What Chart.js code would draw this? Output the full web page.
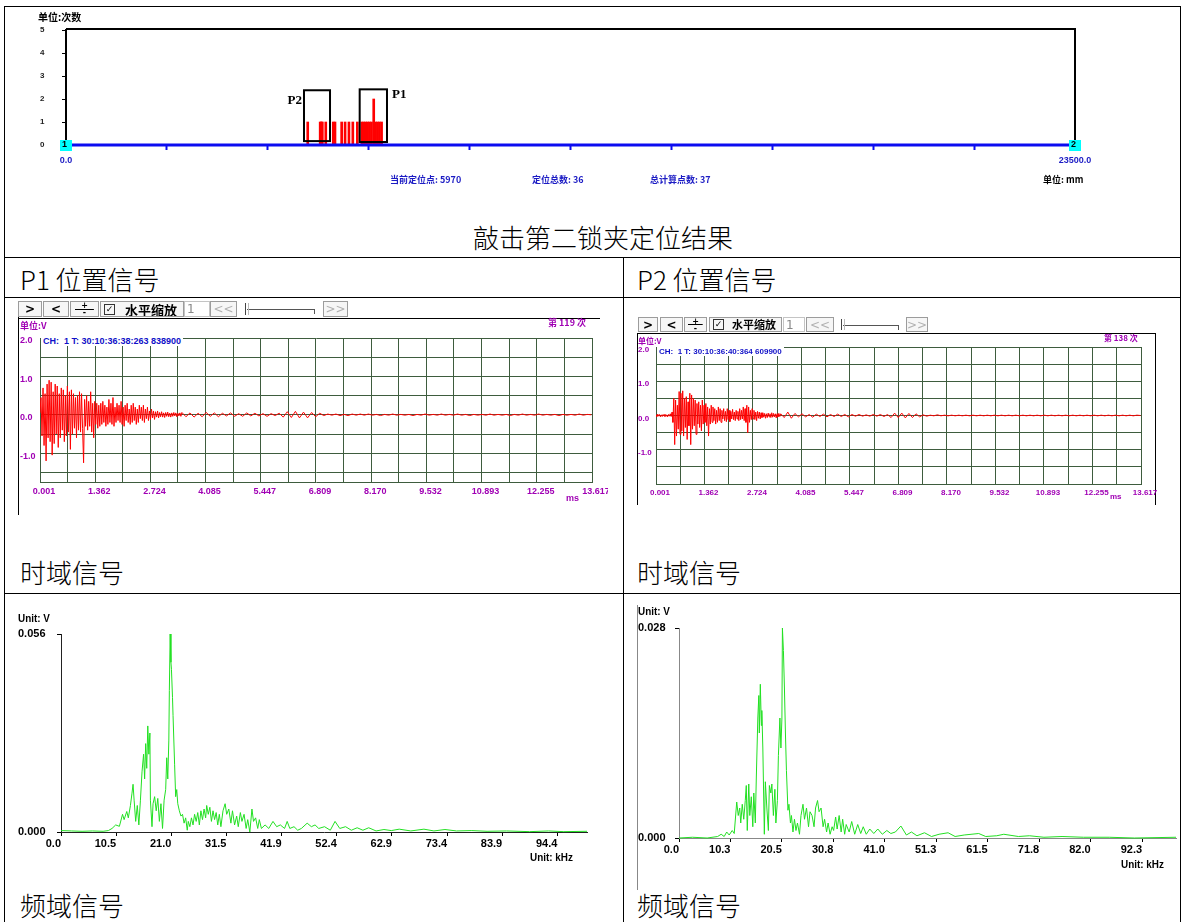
<!DOCTYPE html>
<html lang="zh-CN">
<head>
<meta charset="utf-8">
<title>敲击第二锁夹定位结果</title>
<script src="https://cdn.jsdelivr.net/npm/chart.js@4.4.1/dist/chart.umd.min.js"></script>
<style>
  html, body { margin: 0; padding: 0; background: #fff; }
  #page { position: relative; width: 1182px; height: 922px; overflow: hidden; font-family: 'Noto Sans CJK SC', 'Liberation Sans', sans-serif; }
  canvas { position: absolute; }
  .ln { position: absolute; background: #000; }
  .cap { position: absolute; font-size: 26px; line-height: 30px; font-weight: 300; color: #000; white-space: nowrap; }
  .txt { position: absolute; white-space: nowrap; line-height: 12px; font-weight: bold; }
  .blue { color: #1c1cc4; font-size: 9px; }
  .mag { color: #a000b4; font-size: 9px; }
  .unit { color: #000; font: bold 11px 'Liberation Sans Narrow', 'Liberation Sans', sans-serif; transform: scaleX(0.9); transform-origin: left; }
  .ch { color: #1010c8; background: #fff; font: bold 9px 'Liberation Sans', sans-serif; padding: 0 2px; }
  .tb { position: absolute; box-sizing: border-box; border: 1px solid #9c9c9c; background: #f6f6f6; display: flex; align-items: center; justify-content: center; font: bold 12px 'DejaVu Sans', sans-serif; color: #000; white-space: nowrap; overflow: hidden; }
  .tb.dim { color: #b0b0b0; font-weight: normal; }
  .tb.inp { background: #fff; justify-content: flex-start; padding-left: 2px; color: #888; font-weight: normal; border-color: #c4c4c4; }
  .tb.chk { justify-content: flex-start; padding-left: 3px; }
  .tb.chk .box { width: 9px; height: 9px; border: 1px solid #333; font: 9px 'DejaVu Sans'; line-height: 9px; text-align: center; margin-right: 10px; flex: none; }
  .tb.chk .lbl { font: bold 13px 'Noto Sans CJK SC'; line-height: 13px; }
  .small .tb.chk .lbl, .tb.chk.small .lbl { font-size: 11px; }
  .tb.chk.small .box { margin-right: 8px; }
  .tb.pm { flex-direction: column; justify-content: space-between; font: bold 8px 'DejaVu Sans'; line-height: 7px; background: linear-gradient(#000, #000) center / 70% 1px no-repeat, #f6f6f6; }
  .tb.sld { border: none; background: #fff; }
  .tb.sld .track { position: absolute; left: 8px; right: 5px; top: 50%; height: 1px; background: #555; }
  .tb.sld .thumb { position: absolute; left: 6px; top: 2px; width: 2px; bottom: 2px; border-left: 1px solid #444; border-right: 1px solid #bbb; }
  .tb.sld .end { position: absolute; right: 5px; top: 50%; height: 5px; width: 1px; background: #555; }
</style>
</head>
<body>
<div id="page">
  <!-- table rules -->
  <div class="ln" style="left:4px;top:6px;width:1177px;height:1px"></div>
  <div class="ln" style="left:4px;top:6px;width:1px;height:916px"></div>
  <div class="ln" style="left:1180px;top:6px;width:1px;height:916px"></div>
  <div class="ln" style="left:4px;top:257px;width:1177px;height:1px"></div>
  <div class="ln" style="left:4px;top:297px;width:1177px;height:1px"></div>
  <div class="ln" style="left:4px;top:593px;width:1177px;height:1px"></div>
  <div class="ln" style="left:623px;top:257px;width:1px;height:665px"></div>

  <!-- captions -->
  <div class="cap" style="left:473px;top:222px">敲击第二锁夹定位结果</div>
  <div class="cap" style="left:20px;top:264px">P1 位置信号</div>
  <div class="cap" style="left:637px;top:264px">P2 位置信号</div>
  <div class="cap" style="left:20px;top:557px">时域信号</div>
  <div class="cap" style="left:637px;top:557px">时域信号</div>
  <div class="cap" style="left:20px;top:890px">频域信号</div>
  <div class="cap" style="left:637px;top:890px">频域信号</div>

  <!-- locator chart -->
  <canvas id="locChart" width="1182" height="200" style="left:0;top:0"></canvas>
  <div class="txt" style="left:38px;top:11px;font-size:10px;color:#000">单位:次数</div>
  <div class="txt blue" style="left:390px;top:174px">当前定位点: 5970</div>
  <div class="txt blue" style="left:532px;top:174px">定位总数: 36</div>
  <div class="txt blue" style="left:650px;top:174px">总计算点数: 37</div>
  <div class="txt" style="left:1043px;top:174px;font-size:9px;color:#000">单位: mm</div>

  <!-- P1 time panel -->
  <div class="ln" style="left:18px;top:318px;width:582px;height:1px"></div>
  <div class="ln" style="left:18px;top:316px;width:1px;height:199px"></div>
  <canvas id="p1Time" width="590" height="200" style="left:18px;top:318px"></canvas>
  <div class="txt mag" style="left:20px;top:320px">单位:V</div>
  <div class="txt mag" style="left:548px;top:317px">第 119 次</div>
  <div class="txt ch" style="left:41px;top:336px">CH:&nbsp; 1 T: 30:10:36:38:263 838900</div>
  <div class="txt mag" style="left:566px;top:492px;font-family:'Liberation Sans'">ms</div>

  <!-- P2 time panel -->
  <div class="ln" style="left:637px;top:333px;width:519px;height:1px"></div>
  <div class="ln" style="left:637px;top:333px;width:1px;height:172px"></div>
  <div class="ln" style="left:1155px;top:333px;width:1px;height:172px"></div>
  <canvas id="p2Time" width="540" height="180" style="left:637px;top:333px"></canvas>
  <div class="txt mag" style="left:638px;top:335px;font-size:8px">单位:V</div>
  <div class="txt mag" style="left:1104px;top:332px;font-size:8px">第 138 次</div>
  <div class="txt ch" style="left:657px;top:347px;font-size:8px">CH:&nbsp; 1 T: 30:10:36:40:364 609900</div>
  <div class="txt mag" style="left:1110px;top:491px;font-size:8px;font-family:'Liberation Sans'">ms</div>

  <!-- frequency panels -->
  <canvas id="p1Freq" width="590" height="270" style="left:8px;top:600px"></canvas>
  <div class="txt unit" style="left:18px;top:612px">Unit: V</div>
  <div class="txt unit" style="left:530px;top:851px">Unit: kHz</div>
  <div class="ln" style="left:637px;top:605px;width:1px;height:285px;background:#888"></div>
  <canvas id="p2Freq" width="545" height="280" style="left:637px;top:600px"></canvas>
  <div class="txt unit" style="left:638px;top:605px">Unit: V</div>
  <div class="txt unit" style="left:1121px;top:858px">Unit: kHz</div>
</div>

<script>
// ---------- data ----------
// locator: positions along the line (mm) and hit counts
const locPositions = [5630, 5920, 5945, 5970, 6050, 6225, 6265, 6420, 6500, 6590, 6680, 6785,
                      6890, 6935, 6980, 7025, 7070, 7115, 7167, 7210, 7255, 7300, 7350];
const locCounts = [1, 1, 1, 1, 1, 1, 1, 1, 1, 1, 1, 1,
                   1, 1, 1, 1, 1, 1, 2, 1, 1, 1, 1];
const locTickLabels = ['0.0', '23500.0'];
// marked regions (mm / count units)
const boxNames = ['P2', 'P1'];
const boxFrom = [5543, 6840];
const boxTo = [6149, 7476];
const boxLow = [0.17, 0.13];
const boxHigh = [2.38, 2.42];

// time-domain axes
const timeLabels = ['0.001', '1.362', '2.724', '4.085', '5.447', '6.809', '8.170', '9.532', '10.893', '12.255', '13.617'];
const voltTicks = [-2, -1.5, -1, -0.5, 0, 0.5, 1, 1.5, 2];
const voltTickLabels = ['', '', '-1.0', '', '0.0', '', '1.0', '', '2.0'];
const p1VoltMin = -1.75;
const p2VoltMin = -2;
const T_START = 0.001, DT_EARLY = 0.025;   // early samples (ms)
const T_LATE = 3.501, DT_LATE = 0.1;       // tail samples (ms)

// P1 waveform (V)
const p1Early = [
  0.05, 0.45, -0.55, 0.70, -0.80, 0.55, -1.20, 0.80, -0.60, 0.90,
  -0.70, 0.85, -1.05, 0.60, -0.75, 0.80, -0.50, 0.75, -0.85, 0.55,
  -0.60, 0.70, -0.40, 0.65, -0.70, 0.50, -0.55, 0.75, -0.45, 0.60,
  -0.90, 0.65, -0.50, 0.55, -0.35, 0.45, -0.60, 0.50, -0.40, 0.60,
  -0.45, 0.55, -0.35, -1.25, 0.40, -0.30, 0.50, -0.40, 0.35, -0.30,
  0.60, -0.45, 0.30, -0.60, 0.35, -0.25, 0.30, -0.35, 0.25, -0.30,
  0.30, -0.25, 0.35, -0.20, 0.25, -0.30, 0.20, -0.25, 0.40, -0.20,
  0.30, -0.25, 0.45, -0.30, 0.20, -0.20, 0.30, -0.15, 0.25, -0.20,
  0.35, -0.25, 0.20, -0.30, 0.25, -0.15, 0.30, -0.20, 0.15, -0.25,
  0.25, -0.20, 0.30, -0.15, 0.20, -0.25, 0.15, -0.20, 0.25, -0.10,
  0.20, -0.15, 0.25, -0.20, 0.15, -0.10, 0.20, -0.15, 0.10, -0.12,
  0.15, -0.08, 0.10, -0.12, 0.08, -0.06, 0.10, -0.08, 0.06, -0.05,
  0.08, -0.06, 0.05, -0.07, 0.06, -0.04, 0.07, -0.05, 0.04, -0.06,
  0.05, -0.04, 0.06, -0.03, 0.05, -0.05, 0.04, -0.03, 0.05, -0.04
];
const p1Late = [
  0.06, -0.05, 0.05, -0.06, 0.04,
  -0.05, 0.06, -0.04, 0.05, -0.05, 0.04, -0.03, 0.05, -0.04, 0.03,
  -0.04, 0.05, -0.03, 0.04, -0.03, 0.03, -0.04, 0.03, -0.02, 0.04,
  -0.06, 0.08, -0.07, 0.09, -0.08, 0.07, -0.08, 0.06, -0.05, 0.04,
  -0.02, 0.02, -0.01, 0.02, -0.02, 0.01, -0.02, 0.02, -0.01, 0.02,
  -0.01, 0.02, -0.01, 0.01, -0.02, 0.01, -0.01, 0.02, -0.01, 0.01,
  -0.01, 0.01, -0.02, 0.01, -0.01, 0.02, -0.01, 0.01, -0.01, 0.02,
  -0.01, 0.01, -0.01, 0.02, -0.01, 0.01, -0.02, 0.01, -0.01, 0.01,
  -0.01, 0.02, -0.01, 0.01, -0.01, 0.01, -0.02, 0.01, -0.01, 0.02,
  -0.01, 0.01, -0.01, 0.02, -0.01, 0.01, -0.01, 0.01, -0.02, 0.01,
  -0.01, 0.01, -0.01, 0.02, -0.01, 0.01, 0.00
];

// P2 waveform (V)
const p2Early = [
  0.02, -0.03, 0.04, -0.02, 0.03, -0.04, 0.02, -0.03, 0.03, -0.02,
  0.04, -0.03, 0.02, -0.04, 0.03, -0.02, 0.05, -0.03, 0.10, -0.20,
  0.50, -0.85, 0.45, -0.60, 0.30, -0.40, 0.70, -0.55, 0.65, -0.45,
  0.72, -0.60, 0.50, -0.35, 0.55, -0.70, 0.40, -0.30, 0.65, -0.85,
  0.60, -0.40, 0.50, -0.30, 0.45, -0.55, 0.35, -0.25, 0.40, -0.35,
  0.30, -0.45, 0.45, -0.25, 0.30, -0.20, 0.35, -0.30, 0.25, -0.60,
  0.20, -0.25, 0.30, -0.20, 0.25, -0.15, 0.20, -0.25, 0.15, -0.20,
  0.25, -0.15, 0.20, -0.20, 0.15, -0.10, 0.20, -0.15, 0.12, -0.18,
  0.20, -0.12, 0.15, -0.18, 0.12, -0.10, 0.18, -0.12, 0.10, -0.15,
  0.15, -0.10, 0.12, -0.15, 0.20, -0.12, 0.15, -0.10, 0.25, -0.15,
  0.20, -0.20, 0.30, -0.50, 0.25, -0.20, 0.15, -0.12, 0.20, -0.10,
  0.15, -0.12, 0.10, -0.15, 0.12, -0.08, 0.10, -0.10, 0.08, -0.06,
  0.08, -0.05, 0.06, -0.08, 0.05, -0.06, 0.07, -0.04, 0.05, -0.06,
  0.08, -0.05, 0.06, -0.04, 0.05, -0.07, 0.05, -0.04, 0.06, -0.03
];
const p2Late = [
  0.05, -0.06, 0.10, -0.08, 0.06,
  -0.04, 0.05, -0.04, 0.03, -0.05, 0.04, -0.03, 0.04, -0.04, 0.03,
  -0.03, 0.04, -0.03, 0.03, -0.04, 0.03, -0.02, 0.03, -0.02, 0.02,
  -0.02, 0.03, -0.02, 0.03, -0.03, 0.03, -0.06, 0.07, -0.06, 0.07,
  -0.07, 0.06, -0.06, 0.05, -0.04, 0.02, -0.02, 0.01, -0.01, 0.02,
  -0.01, 0.01, -0.01, 0.01, -0.01, 0.01, -0.01, 0.01, -0.01, 0.01,
  -0.01, 0.01, -0.01, 0.01, -0.01, 0.01, -0.01, 0.01, -0.01, 0.01,
  -0.01, 0.01, -0.01, 0.01, -0.01, 0.01, -0.01, 0.01, -0.01, 0.01,
  -0.01, 0.01, -0.01, 0.01, -0.01, 0.01, -0.01, 0.01, -0.01, 0.01,
  -0.01, 0.01, -0.01, 0.01, -0.01, 0.01, -0.01, 0.01, -0.01, 0.01,
  -0.01, 0.01, -0.01, 0.01, -0.01, 0.01, 0.00
];

// P1 spectrum (kHz, V)
const p1Freq = [
  0, 2.0, 4.0, 6.0, 8.0, 9.0, 9.7, 10.4, 11.1, 11.7,
  12.0, 12.5, 12.8, 13.2, 13.5, 13.7, 13.9, 14.2, 14.5, 14.8,
  15.1, 15.4, 15.7, 15.9, 16.1, 16.3, 16.5, 16.7, 16.9, 17.0,
  17.3, 17.5, 17.8, 18.1, 18.4, 18.7, 19.0, 19.3, 19.6, 19.9,
  20.1, 20.3, 20.5, 20.6, 20.75, 20.9, 21.0, 21.2, 21.3, 21.6,
  21.8, 22.0, 22.2, 22.5, 22.8, 23.1, 23.4, 23.7, 24.0, 24.2,
  24.5, 24.8, 25.1, 25.4, 25.7, 26.0, 26.3, 26.6, 26.9, 27.2,
  27.5, 27.7, 28.0, 28.3, 28.6, 28.9, 29.2, 29.5, 29.8, 30.1,
  30.4, 30.8, 31.2, 31.5, 31.9, 32.3, 32.6, 33.0, 33.4, 33.7,
  34.1, 34.4, 34.8, 35.2, 35.5, 35.9, 36.3, 36.6, 37.0, 37.4,
  37.7, 38.1, 38.8, 39.5, 40.3, 41.0, 41.7, 42.5, 43.0, 43.5,
  44.3, 45.0, 45.7, 46.8, 47.6, 48.3, 49.0, 50.1, 51.2, 52.1,
  53.0, 54.1, 55.2, 56.3, 57.4, 58.5, 59.9, 61.4, 62.8, 64.3,
  66.5, 69.0, 70.9, 73.0, 75.2, 78.1, 81.0, 84.7, 89.1, 92.7,
  95.6, 100.0
];
const p1Amp = [
  0.0004, 0.0003, 0.0002, 0.0003, 0.0002, 0.0004, 0.0010, 0.0020, 0.0016, 0.0050,
  0.0035, 0.0058, 0.0040, 0.0075, 0.0110, 0.0135, 0.0090, 0.0030, 0.0075, 0.0020,
  0.0090, 0.0170, 0.0220, 0.0150, 0.0250, 0.0180, 0.0300, 0.0220, 0.0280, 0.0090,
  0.0015, 0.0080, 0.0100, 0.0060, 0.0095, 0.0030, 0.0080, 0.0010, 0.0090, 0.0120,
  0.0210, 0.0150, 0.0260, 0.0400, 0.0560, 0.0480, 0.0460, 0.0380, 0.0330, 0.0190,
  0.0100, 0.0120, 0.0080, 0.0060, 0.0045, 0.0050, 0.0025, 0.0040, 0.0005, 0.0030,
  0.0015, 0.0040, 0.0020, 0.0050, 0.0030, 0.0055, 0.0020, 0.0060, 0.0035, 0.0065,
  0.0040, 0.0075, 0.0050, 0.0070, 0.0030, 0.0060, 0.0035, 0.0055, 0.0020, 0.0050,
  0.0015, 0.0060, 0.0080, 0.0050, 0.0065, 0.0025, 0.0060, 0.0020, 0.0045, 0.0015,
  0.0055, 0.0030, 0.0050, 0.0010, 0.0035, 0.0000, 0.0065, 0.0030, 0.0040, 0.0010,
  0.0035, 0.0010, 0.0020, 0.0010, 0.0030, 0.0015, 0.0020, 0.0010, 0.0030, 0.0010,
  0.0015, 0.0005, 0.0010, 0.0025, 0.0015, 0.0020, 0.0010, 0.0015, 0.0005, 0.0030,
  0.0010, 0.0015, 0.0005, 0.0012, 0.0005, 0.0012, 0.0003, 0.0007, 0.0004, 0.0008,
  0.0003, 0.0008, 0.0003, 0.0007, 0.0003, 0.0004, 0.0002, 0.0003, 0.0001, 0.0003,
  0.0001, 0.0002
];
const p1FreqMax = 100;
const p1AmpMax = 0.056;
const p1FreqTicks = [0, 10.486, 20.971, 31.457, 41.943, 52.429, 62.914, 73.400, 83.886, 94.371];
const p1FreqLabels = ['0.0', '10.5', '21.0', '31.5', '41.9', '52.4', '62.9', '73.4', '83.9', '94.4'];

// P2 spectrum (kHz, V)
const p2Freq = [
  0, 2.7, 5.6, 7.7, 8.4, 9.0, 9.5, 10.0, 10.6, 11.0,
  11.5, 11.8, 12.1, 12.3, 12.6, 12.9, 13.2, 13.4, 13.6, 13.9,
  14.1, 14.4, 14.7, 14.9, 15.2, 15.4, 15.7, 15.9, 16.0, 16.2,
  16.4, 16.5, 16.7, 17.0, 17.2, 17.5, 17.8, 18.0, 18.3, 18.5,
  18.8, 19.1, 19.3, 19.6, 19.8, 20.1, 20.3, 20.5, 20.6, 20.8,
  21.0, 21.2, 21.4, 21.7, 21.9, 22.2, 22.4, 22.7, 23.0, 23.3,
  23.6, 24.0, 24.3, 24.7, 25.0, 25.4, 25.8, 26.1, 26.5, 26.9,
  27.2, 27.6, 27.9, 28.3, 28.7, 29.0, 29.4, 29.7, 30.1, 30.5,
  30.8, 31.2, 31.5, 31.9, 32.3, 32.6, 33.0, 33.3, 33.9, 34.4,
  35.0, 35.6, 36.2, 36.7, 37.3, 38.0, 38.8, 39.6, 40.5, 41.4,
  42.2, 43.1, 44.2, 45.3, 46.3, 47.4, 48.9, 50.3, 51.8, 53.6,
  55.0, 56.8, 59.7, 61.1, 63.3, 64.7, 67.6, 69.8, 72.7, 76.3,
  80.6, 85.7, 90.7, 99.0
];
const p2Amp = [
  0.0000, 0.0001, 0.0000, 0.0002, 0.0005, 0.0002, 0.0008, 0.0004, 0.0010, 0.0006,
  0.0048, 0.0030, 0.0040, 0.0020, 0.0045, 0.0025, 0.0050, 0.0070, 0.0010, 0.0072,
  0.0030, 0.0055, 0.0015, 0.0060, 0.0020, 0.0080, 0.0160, 0.0190, 0.0140, 0.0205,
  0.0150, 0.0170, 0.0120, 0.0005, 0.0075, 0.0040, 0.0010, 0.0070, 0.0060, 0.0072,
  0.0030, 0.0065, 0.0020, 0.0050, 0.0110, 0.0160, 0.0120, 0.0160, 0.0280, 0.0250,
  0.0200, 0.0140, 0.0090, 0.0037, 0.0045, 0.0020, 0.0030, 0.0008, 0.0025, 0.0010,
  0.0020, 0.0005, 0.0030, 0.0045, 0.0025, 0.0040, 0.0015, 0.0035, 0.0030, 0.0015,
  0.0040, 0.0050, 0.0035, 0.0040, 0.0015, 0.0025, 0.0008, 0.0020, 0.0005, 0.0015,
  0.0010, 0.0028, 0.0012, 0.0030, 0.0008, 0.0025, 0.0005, 0.0018, 0.0008, 0.0022,
  0.0005, 0.0018, 0.0006, 0.0015, 0.0005, 0.0012, 0.0006, 0.0012, 0.0005, 0.0010,
  0.0006, 0.0008, 0.0016, 0.0004, 0.0008, 0.0003, 0.0007, 0.0002, 0.0005, 0.0007,
  0.0002, 0.0004, 0.0006, 0.0002, 0.0003, 0.0005, 0.0002, 0.0003, 0.0001, 0.0002,
  0.0001, 0.0001, 0.0000, 0.0001
];
const p2FreqMax = 99;
const p2AmpMax = 0.028;
const p2FreqTicks = [0, 10.25, 20.5, 30.75, 41.0, 51.25, 61.5, 71.75, 82.0, 92.25];
const p2FreqLabels = ['0.0', '10.3', '20.5', '30.8', '41.0', '51.3', '61.5', '71.8', '82.0', '92.3'];

// ---------- helpers ----------
const BLUE = '#0c0cf0';
const MAGENTA = '#a000b4';
const GRID = '#3e5c3e';
const GREEN = '#22e022';

// pin axis sizes so the plot areas land where the panels need them
const fixAxis = size => s => {
  if (s.isHorizontal()) s.height = size; else s.width = size;
  s.paddingLeft = s.paddingRight = s.paddingTop = s.paddingBottom = 0;
};

const baseOptions = pad => ({
  responsive: false,
  animation: false,
  events: [],
  layout: { padding: pad },
  plugins: { legend: { display: false }, tooltip: { enabled: false } }
});

// ---------- locator chart ----------
const locatorDecor = {
  id: 'locatorDecor',
  afterDatasetsDraw(chart) {
    const { ctx, chartArea: a, scales: { x, y } } = chart;
    ctx.save();
    ctx.strokeStyle = '#000';
    ctx.lineWidth = 2;
    ctx.beginPath();
    ctx.moveTo(a.left, a.top - 1);
    ctx.lineTo(a.right, a.top - 1);
    ctx.lineTo(a.right, a.bottom);
    ctx.stroke();

    const y0 = y.getPixelForValue(0);
    ctx.fillStyle = BLUE;
    ctx.fillRect(a.left - 6, y0 - 1.5, a.right - a.left + 12, 3);

    // end markers 1 / 2
    [[a.left, '1'], [a.right, '2']].forEach(([px, t]) => {
      ctx.fillStyle = '#00ffff';
      ctx.fillRect(px - 6, y0 - 5, 12, 11);
      ctx.fillStyle = '#000';
      ctx.font = 'bold 9px "Liberation Sans"';
      ctx.textBaseline = 'middle';
      ctx.textAlign = 'left';
      ctx.fillText(t, px - 4, y0);
    });

    // marked regions
    ctx.lineWidth = 2;
    ctx.strokeStyle = '#000';
    ctx.font = 'bold 13px "Liberation Serif"';
    ctx.textBaseline = 'middle';
    boxNames.forEach((name, i) => {
      const x0 = x.getPixelForValue(boxFrom[i]);
      const x1 = x.getPixelForValue(boxTo[i]);
      const yt = y.getPixelForValue(boxHigh[i]);
      const yb = y.getPixelForValue(boxLow[i]);
      ctx.strokeRect(x0, yt, x1 - x0, yb - yt);
      if (i === 0) {
        ctx.textAlign = 'right';
        ctx.fillText(name, x0 - 2, yt + 10);
      } else {
        ctx.textAlign = 'left';
        ctx.fillText(name, x1 + 5, yt + 5);
      }
    });
    ctx.restore();
  }
};

new Chart(document.getElementById('locChart'), {
  type: 'bar',
  data: {
    datasets: [{
      data: locPositions.map((p, i) => ({ x: p, y: locCounts[i] })),
      backgroundColor: '#ff0000',
      barThickness: 2,
      grouped: false
    }]
  },
  options: Object.assign(baseOptions({ left: 40, top: 30, right: 107, bottom: 25 }), {
    scales: {
      x: {
        type: 'linear', min: 0, max: 23500, offset: false,
        afterFit: fixAxis(30),
        grid: { offset: false, drawOnChartArea: false, tickLength: 5, tickColor: BLUE, tickWidth: 2 },
        border: { display: false },
        ticks: {
          stepSize: 2350, autoSkip: false, maxRotation: 0, padding: 5,
          color: '#1c1cc4', font: { family: 'Liberation Sans', size: 9, weight: 'bold' },
          callback: (v, i, t) => i === 0 ? locTickLabels[0] : (i === t.length - 1 ? locTickLabels[1] : '')
        }
      },
      y: {
        min: 0, max: 5,
        afterFit: fixAxis(26),
        grid: { drawOnChartArea: false, tickLength: 4, tickColor: '#000' },
        border: { color: '#000', width: 2 },
        ticks: {
          stepSize: 1, crossAlign: 'far', color: '#222',
          font: { family: 'Liberation Sans', size: 8, weight: 'bold' }
        }
      }
    }
  }),
  plugins: [locatorDecor]
});

// ---------- time-domain charts ----------
function toWave(early, late) {
  const pts = early.map((v, i) => ({ x: T_START + i * DT_EARLY, y: v }));
  late.forEach((v, i) => pts.push({ x: T_LATE + i * DT_LATE, y: v }));
  return pts;
}

function timeGrid() {
  const major = timeLabels.map(Number);
  const vals = [];
  major.forEach((m, i) => {
    vals.push(m);
    if (i < major.length - 1) vals.push((m + major[i + 1]) / 2);
  });
  return vals;
}

function timeChart(id, early, late, yMin, pad, yw, xh, fontSize) {
  const font = { family: 'Liberation Sans', size: fontSize, weight: 'bold' };
  new Chart(document.getElementById(id), {
    type: 'line',
    data: {
      datasets: [{
        data: toWave(early, late),
        borderColor: '#ff0000', borderWidth: 1, pointRadius: 0, tension: 0
      }]
    },
    options: Object.assign(baseOptions(pad), {
      scales: {
        x: {
          type: 'linear', min: Number(timeLabels[0]), max: Number(timeLabels[timeLabels.length - 1]),
          afterBuildTicks: s => { s.ticks = timeGrid().map(v => ({ value: v })); },
          afterFit: fixAxis(xh),
          grid: { color: GRID, drawTicks: false },
          border: { color: GRID },
          ticks: {
            autoSkip: false, maxRotation: 0, padding: 4, labelOffset: 4, color: MAGENTA, font,
            callback: (v, i) => i % 2 ? '' : timeLabels[i / 2]
          }
        },
        y: {
          min: yMin, max: 2,
          afterBuildTicks: s => { s.ticks = voltTicks.filter(v => v >= yMin).map(v => ({ value: v })); },
          afterFit: fixAxis(yw),
          grid: { color: GRID, drawTicks: false },
          border: { color: GRID },
          ticks: {
            autoSkip: false, crossAlign: 'far', labelOffset: 3, color: MAGENTA, font,
            callback: v => voltTickLabels[voltTicks.indexOf(v)] || ''
          }
        }
      }
    })
  });
}

timeChart('p1Time', p1Early, p1Late, p1VoltMin, { left: 2, top: 20, right: 16, bottom: 20 }, 20, 16, 9);
timeChart('p2Time', p2Early, p2Late, p2VoltMin, { left: 1, top: 14, right: 36, bottom: 15 }, 18, 14, 8);

// ---------- frequency charts ----------
function freqChart(id, freqs, amps, fMax, aMax, ticks, labels, pad, yw, axisColor) {
  const font = { family: "'Liberation Sans Narrow', 'Liberation Sans'", size: 11, weight: 'bold' };
  new Chart(document.getElementById(id), {
    type: 'line',
    data: {
      datasets: [{
        data: freqs.map((f, i) => ({ x: f, y: amps[i] })),
        borderColor: GREEN, borderWidth: 1, pointRadius: 0, tension: 0, clip: 2
      }]
    },
    options: Object.assign(baseOptions(pad), {
      scales: {
        x: {
          type: 'linear', min: 0, max: fMax,
          afterBuildTicks: s => { s.ticks = ticks.map(v => ({ value: v })); },
          afterFit: fixAxis(30),
          grid: { drawOnChartArea: false, tickLength: 4, tickColor: '#000' },
          border: { color: axisColor },
          ticks: {
            autoSkip: false, maxRotation: 0, align: 'end', padding: 1, color: '#000', font,
            callback: (v, i) => labels[i]
          }
        },
        y: {
          min: 0, max: aMax,
          afterBuildTicks: s => { s.ticks = [{ value: 0 }, { value: aMax }]; },
          afterFit: fixAxis(yw),
          grid: { drawOnChartArea: false, tickLength: 4, tickColor: '#000' },
          border: { color: axisColor },
          ticks: {
            autoSkip: false, crossAlign: 'far', color: '#000', font,
            callback: v => v.toFixed(3)
          }
        }
      }
    })
  });
}

freqChart('p1Freq', p1Freq, p1Amp, p1FreqMax, p1AmpMax, p1FreqTicks, p1FreqLabels,
          { left: 10, top: 34, right: 11, bottom: 8 }, 43, '#222');
freqChart('p2Freq', p2Freq, p2Amp, p2FreqMax, p2AmpMax, p2FreqTicks, p2FreqLabels,
          { left: 1, top: 28, right: 6, bottom: 12 }, 41, '#888');

// ---------- viewer toolbars ----------
const page = document.getElementById('page');
function addTool(x, y, w, h, cls, html) {
  const d = document.createElement('div');
  d.className = 'tb ' + cls;
  Object.assign(d.style, { left: x + 'px', top: y + 'px', width: w + 'px', height: h + 'px' });
  d.innerHTML = html;
  page.appendChild(d);
}
function toolbar(y, h, small, parts) {
  parts.forEach(([x, w, kind]) => {
    if (kind === 'next') addTool(x, y, w, h, '', '&gt;');
    else if (kind === 'prev') addTool(x, y, w, h, '', '&lt;');
    else if (kind === 'pm') addTool(x, y, w, h, 'pm', '<span>+</span><span>-</span>');
    else if (kind === 'chk') addTool(x, y, w, h, 'chk' + (small ? ' small' : ''), '<span class="box">✓</span><span class="lbl">水平缩放</span>');
    else if (kind === 'inp') addTool(x, y, w, h, 'inp', '1');
    else if (kind === 'rew') addTool(x, y, w, h, 'dim', '&lt;&lt;');
    else if (kind === 'fwd') addTool(x, y, w, h, 'dim', '&gt;&gt;');
    else if (kind === 'sld') addTool(x, y, w, h, 'sld', '<div class="track"></div><div class="thumb"></div><div class="end"></div>');
  });
}
toolbar(301, 16, false, [[18, 24, 'next'], [43, 26, 'prev'], [70, 29, 'pm'], [100, 84, 'chk'],
                         [184, 26, 'inp'], [210, 27, 'rew'], [239, 81, 'sld'], [323, 25, 'fwd']]);
toolbar(317, 15, true, [[638, 20, 'next'], [660, 23, 'prev'], [684, 23, 'pm'], [709, 73, 'chk'],
                        [783, 22, 'inp'], [806, 28, 'rew'], [835, 69, 'sld'], [906, 22, 'fwd']]);
</script>
</body>
</html>
